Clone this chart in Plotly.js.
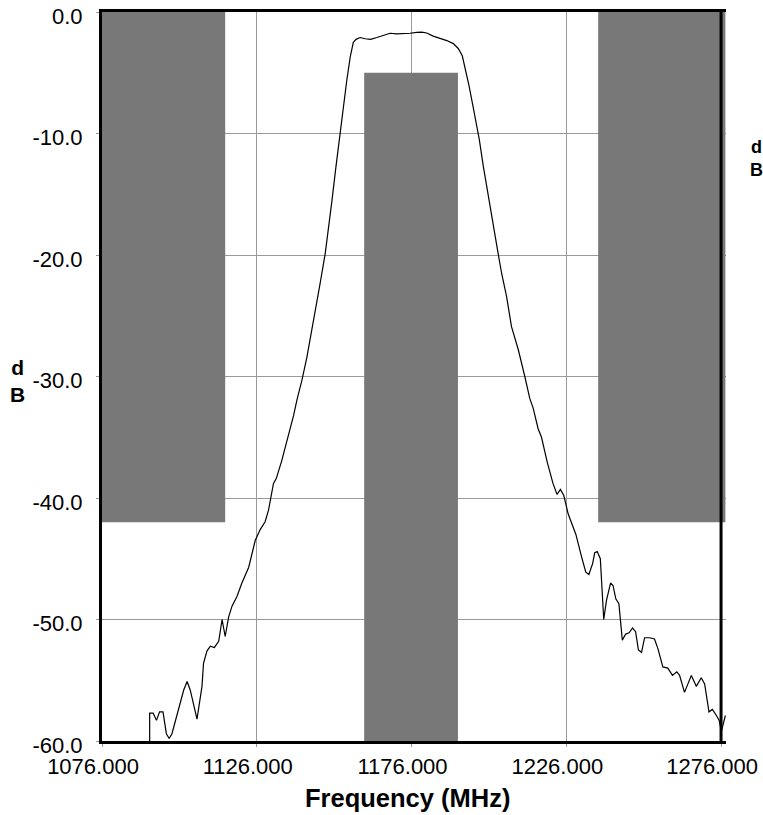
<!DOCTYPE html>
<html>
<head>
<meta charset="utf-8">
<script src="https://cdn.plot.ly/plotly-3.0.1.min.js"></script>
<style>html,body{margin:0;padding:0;background:#fff}#plot{width:763px;height:815px}</style>
</head>
<body>
<div id="plot"></div>
<script>
// Measured response
const freqMHz = [1091.4,1091.4,1092.5,1093.6,1094.6,1095.7,1096.8,1097.7,1098.6,1100.8,1102.4,1103.5,1104.5,1106.7,1108.3,1108.8,1109.9,1111.0,1112.3,1113.7,1114.8,1115.8,1116.9,1118.0,1119.6,1121.2,1123.4,1125.5,1127.1,1128.7,1129.8,1131.4,1132.3,1134.1,1136.3,1137.9,1139.0,1140.6,1142.2,1143.8,1145.4,1146.5,1148.1,1149.2,1150.3,1151.6,1152.9,1154.0,1155.1,1156.2,1157.2,1158.1,1159.4,1161.0,1162.8,1164.8,1166.9,1169.1,1171.2,1173.4,1175.5,1177.7,1179.3,1180.9,1183.0,1185.2,1187.4,1189.5,1191.1,1192.4,1193.3,1194.6,1195.9,1197.0,1197.9,1199.2,1200.8,1202.4,1204.0,1205.1,1206.7,1208.3,1210.5,1212.6,1214.2,1215.3,1216.9,1218.0,1219.8,1221.7,1223.0,1224.1,1225.2,1226.6,1229.1,1230.9,1232.3,1233.3,1234.5,1235.2,1236.0,1237.0,1238.1,1239.0,1240.3,1241.1,1242.0,1243.0,1244.1,1245.2,1246.3,1247.4,1248.4,1249.3,1250.3,1251.3,1252.9,1254.5,1255.6,1257.2,1258.8,1260.3,1261.7,1262.6,1264.2,1266.4,1268.0,1269.6,1270.7,1272.1,1273.2,1274.5,1275.4,1276.1,1277.4];
const responseDb = [-60.5,-57.7,-57.7,-58.3,-57.6,-57.6,-59.4,-59.8,-59.4,-57.2,-55.8,-55.1,-55.8,-58.2,-55.5,-53.6,-52.6,-52.2,-52.3,-51.8,-50.0,-51.4,-49.8,-48.9,-48.1,-47.0,-45.7,-43.5,-42.6,-41.95,-41.0,-38.8,-38.4,-36.9,-34.8,-33.2,-31.9,-30.3,-28.4,-26.2,-24.0,-22.3,-19.9,-17.9,-15.5,-12.7,-10.0,-7.8,-5.6,-3.7,-2.5,-2.25,-2.1,-2.2,-2.25,-2.1,-1.9,-1.75,-1.8,-1.8,-1.75,-1.67,-1.65,-1.73,-1.98,-2.17,-2.35,-2.6,-3.0,-3.6,-4.6,-6.1,-7.8,-9.2,-10.5,-12.7,-15.2,-17.7,-19.9,-21.5,-23.4,-25.9,-27.8,-30.0,-31.8,-32.6,-34.3,-35.0,-37.0,-38.8,-39.7,-39.3,-39.8,-41.3,-43.0,-44.8,-46.1,-46.3,-45.4,-44.5,-44.4,-45.0,-50.0,-48.4,-47.0,-47.2,-48.3,-48.7,-51.7,-51.2,-51.1,-50.7,-51.0,-52.5,-52.7,-51.5,-51.5,-51.6,-52.4,-53.9,-54.0,-54.6,-54.3,-54.6,-56.0,-54.6,-55.5,-54.8,-55.3,-57.6,-57.4,-57.9,-58.3,-59.2,-57.9];

// Mask regions (forbidden zones)
const maskX0 = [1076, 1160.7, 1236.3];
const maskX1 = [1115.8, 1191.0, 1277.4];
const maskTop = [0, -5, 0];
const maskBottom = [-42, -60, -42];

// Axis ticks
const xTickVals = [1076, 1126, 1176, 1226, 1276];
const xTickText = ['1076.000', '1126.000', '1176.000', '1226.000', '1276.000'];
const yTickVals = [0, -10, -20, -30, -40, -50, -60];
const yTickText = ['0.0', '-10.0', '-20.0', '-30.0', '-40.0', '-50.0', '-60.0'];

const FONT = 'Arial, "Liberation Sans", sans-serif';
const L = 102, R = 37, T = 12, B = 74, W = 763, H = 815;
const PW = W - L - R, PH = H - T - B;

const shapes = maskX0.map((x0, i) => ({
  type: 'rect', xref: 'x', yref: 'y',
  x0: x0, x1: maskX1[i], y0: maskBottom[i], y1: maskTop[i],
  fillcolor: '#787878', line: {width: 0}, layer: 'between'
}));
// right spine at the last tick
shapes.push({type: 'line', xref: 'x', yref: 'y', x0: xTickVals[4], x1: xTickVals[4], y0: -60, y1: 0,
  line: {color: '#000', width: 3}, layer: 'above'});

const trace = {
  x: freqMHz, y: responseDb, type: 'scatter', mode: 'lines',
  line: {color: '#000', width: 1.2}, hoverinfo: 'skip'
};

const layout = {
  width: W, height: H,
  margin: {l: L, r: R, t: T, b: B},
  paper_bgcolor: '#fff', plot_bgcolor: '#fff',
  showlegend: false,
  font: {family: FONT, color: '#000'},
  xaxis: {
    range: [1076, 1277.6], tickmode: 'array', tickvals: xTickVals, ticktext: xTickText,
    showgrid: true, gridcolor: '#9a9a9a', gridwidth: 1, zeroline: false,
    showline: true, linecolor: '#000', linewidth: 3, mirror: true,
    ticks: 'outside', ticklen: 3, tickcolor: '#9a9a9a',
    tickfont: {family: FONT, size: 22, color: '#000'},
    ticklabelshift: -9, ticklabelstandoff: 1,
    automargin: false, fixedrange: true
  },
  yaxis: {
    range: [-60, 0.001], tickmode: 'array', tickvals: yTickVals, ticktext: yTickText,
    showgrid: true, gridcolor: '#9a9a9a', gridwidth: 1, zeroline: false,
    showline: true, linecolor: '#000', linewidth: 3,
    ticks: 'outside', ticklen: 3, tickcolor: '#9a9a9a',
    tickfont: {family: FONT, size: 22, color: '#000'},
    ticklabelshift: 4, ticklabelstandoff: 9,
    automargin: false, fixedrange: true
  },
  shapes: shapes,
  annotations: [
    {xref: 'paper', yref: 'paper', x: (407 - L) / PW, y: (H - B - 798) / PH, xanchor: 'center', yanchor: 'middle',
     text: '<b>Frequency (MHz)</b>', showarrow: false, font: {family: FONT, size: 25.5, color: '#000'}},
    {xref: 'paper', yref: 'paper', x: (17 - L) / PW, y: (H - B - 381) / PH, xanchor: 'center', yanchor: 'middle',
     text: '<b>d<br>B</b>', showarrow: false, align: 'center', font: {family: FONT, size: 21, color: '#000'}},
    {xref: 'paper', yref: 'paper', x: (756 - L) / PW, y: (H - B - 158) / PH, xanchor: 'center', yanchor: 'middle',
     text: '<b>d<br>B</b>', showarrow: false, align: 'center', font: {family: FONT, size: 18, color: '#000'}}
  ]
};

Plotly.newPlot('plot', [trace], layout, {staticPlot: true, displayModeBar: false});
</script>
</body>
</html>
